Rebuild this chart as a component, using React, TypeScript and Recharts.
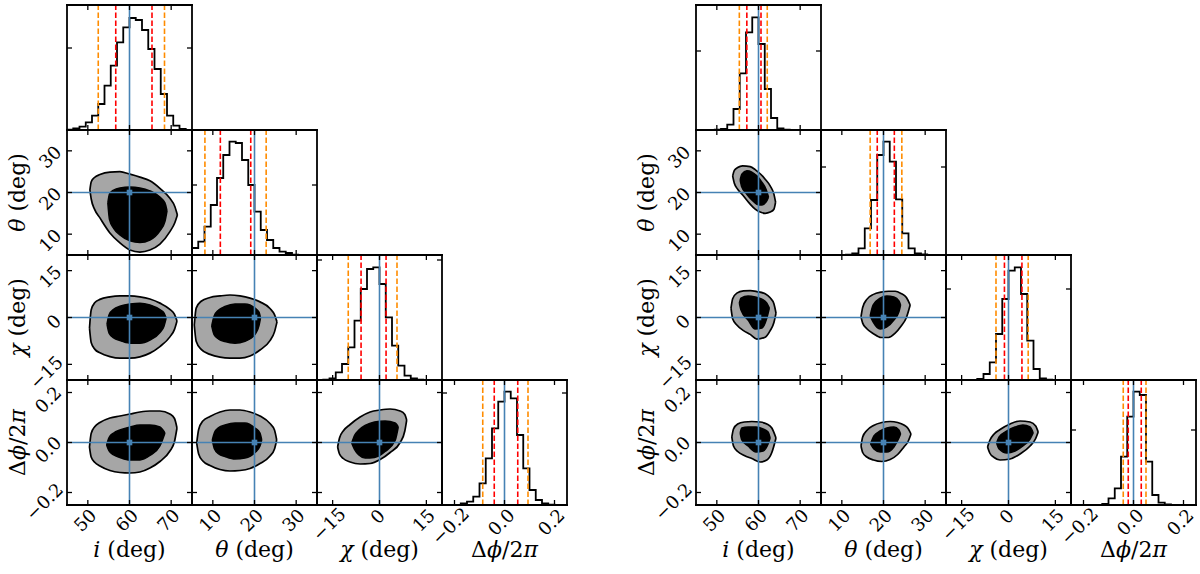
import React from 'react';
import { ComposedChart, Line, Area, Scatter, XAxis, YAxis, ReferenceLine } from 'recharts';

// parameter order: i, theta, chi, dphi
const paramDomains: [number, number][] = [[45, 75], [5, 35], [-20, 20], [-0.25, 0.25]];
const paramTicks = [[50, 60, 70], [10, 20, 30], [-15, 0, 15], [-0.2, 0, 0.2]];
const tickLabels = [['50', '60', '70'], ['10', '20', '30'], ['\u221215', '0', '15'], ['\u22120.2', '0.0', '0.2']];
const truths = [60, 20, 0, 0];

// 1D histograms (20 bins across each axis range)
const leftHistI = [0.3, 1.7, 3.3, 7.7, 14.3, 26, 44.3, 64.3, 87.7, 102.7, 112, 110, 100, 81, 61, 36, 14.3, 4.3, 1, 0];
const leftHistTheta = [7, 13.3, 28.3, 50, 77, 100, 113.3, 112, 95, 70, 43.3, 25, 15, 7, 3.3, 2, 0.3, 0, 0, 0];
const leftHistChi = [0, 0.3, 1.7, 7.7, 16, 32.7, 59.3, 91, 111, 112.7, 96, 62.7, 34.3, 14.3, 4.3, 1.7, 0.3, 0, 0, 0];
const leftHistDphi = [0, 0, 0.2, 1.7, 3.3, 8.3, 21.7, 46.7, 76.7, 103.3, 113.3, 106.7, 70, 36.7, 15, 5, 1.7, 0.3, 0, 0];
const rightHistI = [0, 0, 0, 0.3, 1, 5.3, 21, 56.7, 97.7, 112.7, 86, 41, 12, 1.7, 0.3, 0, 0, 0, 0, 0];
const rightHistTheta = [0, 0, 0, 0, 0.3, 1.7, 6.7, 26.7, 55, 100, 113.3, 93.3, 55.7, 21.7, 6.7, 1.7, 0.7, 0, 0, 0];
const rightHistChi = [0, 0, 0, 0, 0, 1, 6, 17.7, 46, 81, 109.3, 112.7, 86, 39.3, 11, 1.7, 0.3, 0, 0, 0];
const rightHistDphi = [0, 0, 0, 0, 0, 1, 6.7, 16.7, 48.3, 88.3, 113.3, 110, 43.3, 10, 2.3, 0.7, 0, 0, 0, 0];
const histMax = 125;
const leftHistTicks = [82, 70, 120, 112];
const rightHistTicks = [79, 88, 91, 75];

// quantiles: [outer low, inner low, inner high, outer high]
const leftQuantiles = [[52.5, 56.7, 65.4, 68.4], [8.1, 11.8, 19.1, 22.8], [-10, -5.9, 2.1, 5.6], [-0.087, -0.041, 0.053, 0.094]];
const rightQuantiles = [[55.4, 57.2, 60.6, 62.1], [16.8, 18.5, 22.6, 24.4], [-4, -1.3, 4.3, 6.3], [-0.041, -0.021, 0.031, 0.05]];

// 2D contours: [x, y low, y high]
const leftIThetaOuter = [[50.5, 20.6, 20.6], [50.8, 18.5, 22.5], [51.6, 16.0, 23.6], [52.9, 13.9, 24.3], [55.3, 10.3, 24.9], [57.7, 7.9, 25.0], [60.1, 6.2, 24.4], [62.5, 5.7, 23.7], [64.9, 6.2, 22.8], [67.3, 7.6, 21.0], [69.7, 10.6, 18.6], [70.9, 12.8, 16.6], [71.5, 14.6, 14.6]];
const leftIThetaInner = [[54.8, 17.5, 17.5], [55.2, 13.5, 19.6], [56.2, 11.4, 20.6], [57.7, 9.8, 21.1], [60.1, 8.4, 21.3], [62.5, 8.0, 21.1], [64.9, 8.6, 20.4], [67.3, 10.8, 18.9], [68.5, 13.0, 17.5], [69.0, 15.6, 15.6]];
const leftIChiOuter = [[50.4, -3.4, -3.4], [50.8, -8.0, 2.4], [51.7, -10.2, 4.8], [52.9, -11.3, 5.8], [55.3, -12.5, 6.6], [57.7, -13.0, 6.9], [60.1, -13.0, 6.9], [62.5, -12.6, 6.6], [64.9, -11.4, 5.9], [67.3, -9.3, 4.6], [69.7, -6.2, 2.6], [70.8, -3.8, 1.0], [71.4, -1.1, -1.1]];
const leftIChiInner = [[54.6, -2.1, -2.1], [55.1, -5.0, 0.9], [56.2, -6.5, 2.6], [57.7, -7.4, 3.6], [60.1, -8.2, 4.3], [62.5, -8.2, 4.6], [64.9, -7.2, 4.0], [67.3, -4.8, 2.5], [68.3, -2.7, 1.4], [68.8, -0.2, -0.2]];
const leftThetaChiOuter = [[5.55, -2.4, -2.4], [6.0, -7.6, 3.0], [7.2, -10.2, 5.2], [9.32, -11.8, 6.4], [11.72, -12.7, 6.9], [14.12, -13.0, 7.2], [16.52, -13.0, 6.9], [18.92, -12.3, 6.2], [21.32, -10.4, 5.0], [23.72, -7.4, 2.9], [24.8, -4.6, 0.9], [25.4, -1.4, -1.4]];
const leftThetaChiInner = [[9.73, -2.7, -2.7], [10.3, -5.5, 0.4], [11.4, -6.9, 2.4], [12.92, -7.7, 3.5], [15.32, -8.2, 4.3], [17.72, -7.6, 4.3], [20.12, -5.4, 3.0], [21.08, -2.6, 1.7], [21.44, -0.2, -0.2]];
const leftIDphiOuter = [[50.4, -0.018, -0.018], [50.8, -0.058, 0.036], [51.7, -0.08, 0.064], [52.9, -0.094, 0.08], [55.3, -0.112, 0.098], [57.7, -0.12, 0.106], [60.1, -0.122, 0.114], [62.5, -0.118, 0.122], [64.9, -0.102, 0.126], [67.3, -0.076, 0.126], [69.7, -0.034, 0.114], [70.8, 0.004, 0.096], [71.4, 0.058, 0.058]];
const leftIDphiInner = [[54.5, -0.01, -0.01], [55.1, -0.034, 0.02], [56.2, -0.05, 0.038], [57.7, -0.06, 0.05], [60.1, -0.07, 0.062], [62.5, -0.07, 0.07], [64.9, -0.052, 0.07], [67.3, -0.014, 0.062], [68.5, 0.038, 0.038]];
const leftThetaDphiOuter = [[6.13, -0.002, -0.002], [6.6, -0.046, 0.052], [7.6, -0.074, 0.086], [9.32, -0.092, 0.104], [11.72, -0.108, 0.122], [14.12, -0.114, 0.13], [16.52, -0.112, 0.13], [18.92, -0.104, 0.122], [21.32, -0.084, 0.106], [23.72, -0.054, 0.076], [24.8, -0.026, 0.05], [25.33, 0.01, 0.01]];
const leftThetaDphiInner = [[9.87, 0.01, 0.01], [10.4, -0.026, 0.04], [11.4, -0.046, 0.06], [12.92, -0.056, 0.07], [15.32, -0.066, 0.078], [17.72, -0.062, 0.078], [20.12, -0.04, 0.058], [21.32, -0.014, 0.038], [21.73, 0.01, 0.01]];
const leftChiDphiOuter = [[-13.4, -0.018, -0.018], [-12.8, -0.046, 0.018], [-11.6, -0.064, 0.046], [-9.4, -0.078, 0.072], [-6.2, -0.086, 0.102], [-3.0, -0.084, 0.122], [0.2, -0.068, 0.13], [3.4, -0.04, 0.134], [6.6, 0.0, 0.126], [8.1, 0.046, 0.112], [8.7, 0.09, 0.09]];
const leftChiDphiInner = [[-8.9, -0.002, -0.002], [-8.0, -0.028, 0.028], [-6.6, -0.05, 0.05], [-4.6, -0.062, 0.068], [-1.6, -0.06, 0.082], [1.8, -0.036, 0.086], [5.0, 0.008, 0.078], [6.0, 0.062, 0.062]];

const rightIThetaOuter = [[53.8, 24.0, 24.0], [54.2, 22.2, 25.3], [55.0, 20.8, 26.0], [56.2, 19.4, 26.4], [58.0, 17.2, 26.2], [59.2, 16.0, 25.5], [60.4, 15.3, 24.5], [61.6, 15.0, 23.2], [62.8, 15.3, 21.6], [63.7, 16.0, 19.6], [64.1, 17.7, 17.7]];
const rightIThetaInner = [[55.6, 23.0, 23.0], [56.0, 21.3, 24.4], [57.2, 19.6, 25.2], [58.4, 18.2, 24.9], [59.6, 17.2, 24.0], [60.8, 17.0, 22.5], [61.8, 17.7, 20.8], [62.4, 18.9, 18.9]];
const rightIChiOuter = [[53.4, 3.0, 3.0], [53.8, -0.4, 6.0], [54.8, -2.4, 7.8], [56.4, -4.2, 8.5], [58.0, -5.4, 8.6], [59.6, -6.9, 8.3], [61.6, -6.3, 7.6], [62.8, -4.2, 6.3], [63.7, -1.6, 4.4], [64.2, 1.4, 1.4]];
const rightIChiInner = [[55.4, 4.6, 4.6], [55.8, 2.4, 6.2], [57.5, -0.8, 6.9], [59.2, -3.7, 6.6], [60.8, -3.4, 5.9], [62.0, -0.2, 4.6], [62.6, 3.0, 3.0]];
const rightThetaChiOuter = [[14.6, 0.2, 0.2], [15.0, -1.8, 3.2], [16.0, -3.6, 5.8], [17.6, -5.2, 7.4], [19.4, -6.4, 8.1], [21.2, -6.4, 8.4], [22.8, -5.0, 8.4], [24.2, -2.8, 7.7], [25.5, 0.0, 6.4], [26.4, 4.0, 4.0]];
const rightThetaChiInner = [[16.8, 0.5, 0.5], [17.5, -1.4, 4.0], [19.2, -3.7, 6.2], [20.8, -3.0, 6.9], [22.5, -0.8, 6.6], [23.7, 1.8, 5.3], [24.1, 4.0, 4.0]];
const rightIDphiOuter = [[53.6, 0.022, 0.022], [54.0, -0.014, 0.054], [55.0, -0.036, 0.074], [56.6, -0.052, 0.082], [58.4, -0.064, 0.084], [60.4, -0.078, 0.082], [62.0, -0.07, 0.074], [63.2, -0.04, 0.058], [64.2, 0.018, 0.018]];
const rightIDphiInner = [[55.6, 0.038, 0.038], [56.0, 0.01, 0.058], [57.5, -0.014, 0.062], [59.4, -0.038, 0.062], [61.1, -0.034, 0.054], [62.3, -0.006, 0.042], [62.8, 0.018, 0.018]];
const rightThetaDphiOuter = [[14.6, -0.014, -0.014], [15.0, -0.04, 0.022], [16.0, -0.058, 0.048], [17.6, -0.07, 0.068], [19.6, -0.076, 0.08], [21.6, -0.068, 0.084], [23.4, -0.048, 0.08], [24.9, -0.018, 0.07], [25.9, 0.004, 0.056], [26.6, 0.034, 0.034]];
const rightThetaDphiInner = [[16.9, -0.006, -0.006], [17.7, -0.026, 0.026], [19.2, -0.038, 0.046], [20.8, -0.038, 0.058], [22.5, -0.018, 0.062], [23.7, 0.018, 0.05], [24.1, 0.034, 0.034]];
const rightChiDphiOuter = [[-6.7, -0.018, -0.018], [-6.0, -0.042, 0.008], [-4.6, -0.06, 0.034], [-2.7, -0.07, 0.052], [0.5, -0.066, 0.074], [3.7, -0.046, 0.086], [6.9, -0.014, 0.082], [8.7, 0.016, 0.066], [9.5, 0.042, 0.042]];
const rightChiDphiInner = [[-3.8, -0.002, -0.002], [-3.0, -0.026, 0.022], [-0.5, -0.042, 0.046], [2.1, -0.034, 0.062], [4.6, -0.014, 0.07], [6.9, 0.014, 0.062], [7.9, 0.038, 0.038]];

const leftContours: Record<string, number[][][]> = {
  '10': [leftIThetaOuter, leftIThetaInner],
  '20': [leftIChiOuter, leftIChiInner],
  '21': [leftThetaChiOuter, leftThetaChiInner],
  '30': [leftIDphiOuter, leftIDphiInner],
  '31': [leftThetaDphiOuter, leftThetaDphiInner],
  '32': [leftChiDphiOuter, leftChiDphiInner],
};
const rightContours: Record<string, number[][][]> = {
  '10': [rightIThetaOuter, rightIThetaInner],
  '20': [rightIChiOuter, rightIChiInner],
  '21': [rightThetaChiOuter, rightThetaChiInner],
  '30': [rightIDphiOuter, rightIDphiInner],
  '31': [rightThetaDphiOuter, rightThetaDphiInner],
  '32': [rightChiDphiOuter, rightChiDphiInner],
};

const SIZE = 125;
const TOP = 5;
const FONT = "'DejaVu Serif', 'Liberation Serif', 'Times New Roman', Times, serif";
const TICK_FS = 18;
const TITLE_FS = 22;
const TL = 5;
const BLUE = '#4682b4';
const RED = '#ff0000';
const ORANGE = '#ff8c00';
const GRAY = '#a6a6a6';
const frame = { stroke: '#000', strokeWidth: 1.8, strokeLinecap: 'square' as const };
const textStyle = { fontFamily: FONT };

const titles = [
  <><tspan fontStyle="italic">i</tspan> (deg)</>,
  <><tspan fontStyle="italic">θ</tspan> (deg)</>,
  <><tspan fontStyle="italic">χ</tspan> (deg)</>,
  <>Δ<tspan fontStyle="italic">ϕ</tspan>/2<tspan fontStyle="italic">π</tspan></>,
];

function textWidth(s: string) {
  let w = 0;
  for (const ch of s) w += ch === '.' ? 0.3 : ch === '\u2212' ? 0.6 : 0.6;
  return w * TICK_FS;
}

function tickRenderer(side: string, labels: string[] | null, ticks: number[]) {
  return (p: any) => {
    const x = Number(p.x);
    const y = Number(p.y);
    let line;
    if (side === 'bottom') line = <line x1={x} y1={y} x2={x} y2={y - TL} />;
    else if (side === 'top') line = <line x1={x} y1={y} x2={x} y2={y + TL} />;
    else if (side === 'left') line = <line x1={x} y1={y} x2={x + TL} y2={y} />;
    else line = <line x1={x} y1={y} x2={x - TL} y2={y} />;
    let label = null;
    if (labels) {
      const s = labels[ticks.indexOf(p.payload?.value)] ?? String(p.payload?.value);
      const b = (textWidth(s) + 0.7 * TICK_FS) * 0.7071;
      const cx = side === 'bottom' ? x - b * 0.12 : x - 5 - b / 2;
      const cy = side === 'bottom' ? y + 3 + b / 2 : y + b * 0.25;
      label = (
        <text x={cx} y={cy} transform={`rotate(-45 ${cx} ${cy})`} textAnchor="middle" dominantBaseline="central"
          style={textStyle} fontSize={TICK_FS} fill="#000">{s}</text>
      );
    }
    return <g stroke="#000" strokeWidth={1.3}>{line}<g stroke="none">{label}</g></g>;
  };
}

const xTitle = (col: number) => (p: any) => {
  const vb = p.viewBox ?? { x: 1, y: 126, width: SIZE, height: 1 };
  return (
    <text x={vb.x + vb.width / 2} y={vb.y + 52} textAnchor="middle" style={textStyle} fontSize={TITLE_FS} fill="#000">
      {titles[col]}
    </text>
  );
};

const yTitle = (row: number) => (p: any) => {
  const vb = p.viewBox ?? { x: 0, y: 1, width: 1, height: SIZE };
  const cx = vb.x + vb.width - 42;
  const cy = vb.y + vb.height / 2;
  return (
    <text x={cx} y={cy} transform={`rotate(-90 ${cx} ${cy})`} textAnchor="middle" style={textStyle} fontSize={TITLE_FS} fill="#000">
      {titles[row]}
    </text>
  );
};

function stepData(counts: number[], dom: [number, number]) {
  const w = (dom[1] - dom[0]) / counts.length;
  const pts = [{ x: dom[0], c: 0 }];
  counts.forEach((c, k) => {
    pts.push({ x: dom[0] + k * w, c });
    pts.push({ x: dom[0] + (k + 1) * w, c });
  });
  pts.push({ x: dom[1], c: 0 });
  return pts;
}

const rangeData = (pts: number[][]) => pts.map(([x, lo, hi]) => ({ x, r: [lo, hi] }));

interface PanelProps {
  x0: number;
  row: number;
  col: number;
  hist?: number[];
  quants?: number[];
  histTick?: number;
  contour?: number[][][];
}

function Panel({ x0, row, col, hist, quants, histTick, contour }: PanelProps) {
  const isHist = row === col;
  const xd = paramDomains[col];
  const yd: [number, number] = isHist ? [0, histMax] : paramDomains[row];
  const xt = paramTicks[col];
  const yt = isHist ? [histTick as number] : paramTicks[row];
  const showX = row === 3;
  const showY = col === 0 && row > 0;
  return (
    <div style={{ position: 'absolute', left: x0 + col * SIZE - 1, top: TOP + row * SIZE - 1 }}>
      <ComposedChart width={SIZE + 2} height={SIZE + 2} margin={{ top: 0, right: 0, bottom: 0, left: 0 }}>
        <XAxis dataKey="x" type="number" domain={xd} ticks={xt} allowDataOverflow height={1} tickSize={0} tickMargin={0}
          interval={0} axisLine={frame} tickLine={false} tick={tickRenderer('bottom', showX ? tickLabels[col] : null, xt)}
          label={showX ? xTitle(col) : undefined} />
        <XAxis xAxisId="top" orientation="top" dataKey="x" type="number" domain={xd} ticks={xt} allowDataOverflow height={1}
          tickSize={0} tickMargin={0} interval={0} axisLine={frame} tickLine={false} tick={tickRenderer('top', null, xt)} />
        <YAxis type="number" domain={yd} ticks={yt} allowDataOverflow width={1} tickSize={0} tickMargin={0} interval={0}
          axisLine={frame} tickLine={false} tick={tickRenderer('left', showY ? tickLabels[row] : null, yt)}
          label={showY ? yTitle(row) : undefined} />
        <YAxis yAxisId="right" orientation="right" type="number" domain={yd} ticks={yt} allowDataOverflow width={1}
          tickSize={0} tickMargin={0} interval={0} axisLine={frame} tickLine={false} tick={tickRenderer('right', null, yt)} />
        {isHist ? (
          <>
            <Line data={stepData(hist as number[], xd)} dataKey="c" type="linear" stroke="#000" strokeWidth={1.8}
              dot={false} activeDot={false} isAnimationActive={false} />
            {(quants as number[]).map((q, k) => (
              <ReferenceLine key={`q${k}`} x={q} stroke={k === 0 || k === 3 ? ORANGE : RED} strokeWidth={1.6}
                strokeDasharray="5.5 2.5" />
            ))}
            <ReferenceLine x={truths[col]} stroke={BLUE} strokeWidth={1.6} />
          </>
        ) : (
          <>
            <Area data={rangeData((contour as number[][][])[0])} dataKey="r" type="monotone" fill={GRAY} fillOpacity={1}
              stroke="#000" strokeWidth={1.7} dot={false} activeDot={false} isAnimationActive={false} />
            <Area data={rangeData((contour as number[][][])[1])} dataKey="r" type="monotone" fill="#000" fillOpacity={1}
              stroke="#000" strokeWidth={1.5} dot={false} activeDot={false} isAnimationActive={false} />
            <ReferenceLine x={truths[col]} stroke={BLUE} strokeWidth={1.6} />
            <ReferenceLine y={truths[row]} stroke={BLUE} strokeWidth={1.6} />
            <Scatter data={[{ x: truths[col], y: truths[row] }]} dataKey="y" isAnimationActive={false}
              shape={(p: any) => <rect x={p.cx - 2.8} y={p.cy - 2.8} width={5.6} height={5.6} fill={BLUE} />} />
          </>
        )}
      </ComposedChart>
    </div>
  );
}

function Corner({ x0, hists, quants, histTicks, contours }: {
  x0: number; hists: number[][]; quants: number[][]; histTicks: number[]; contours: Record<string, number[][][]>;
}) {
  const panels = [];
  for (let row = 0; row < 4; row++) {
    for (let col = 0; col <= row; col++) {
      panels.push(
        <Panel key={`${row}${col}`} x0={x0} row={row} col={col} hist={hists[col]} quants={quants[col]}
          histTick={histTicks[col]} contour={contours[`${row}${col}`]} />
      );
    }
  }
  return <>{panels}</>;
}

export default function App() {
  return (
    <div style={{ position: 'absolute', left: 0, top: 0, width: 1200, height: 574, background: '#fff', fontFamily: FONT }}>
      <style>{".recharts-surface{overflow:visible}.recharts-wrapper{overflow:visible}"}</style>
      <Corner x0={67} hists={[leftHistI, leftHistTheta, leftHistChi, leftHistDphi]} quants={leftQuantiles}
        histTicks={leftHistTicks} contours={leftContours} />
      <Corner x0={696} hists={[rightHistI, rightHistTheta, rightHistChi, rightHistDphi]} quants={rightQuantiles}
        histTicks={rightHistTicks} contours={rightContours} />
    </div>
  );
}
